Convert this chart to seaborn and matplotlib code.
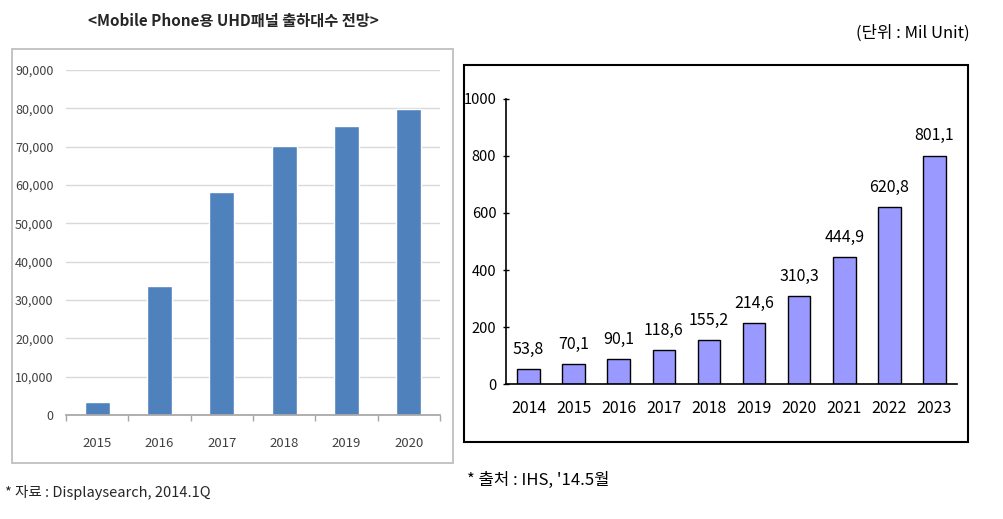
import matplotlib
matplotlib.use("Agg")
import matplotlib.pyplot as plt
from matplotlib.patches import Rectangle
import seaborn as sns
import pandas as pd

# ---- data ----
left_years = ["2015", "2016", "2017", "2018", "2019", "2020"]
left_values = [3400, 33700, 58200, 70100, 75500, 79900]
left_yticks = [0, 10000, 20000, 30000, 40000, 50000, 60000, 70000, 80000, 90000]

right_years = ["2014", "2015", "2016", "2017", "2018", "2019", "2020", "2021", "2022", "2023"]
right_values = [53.8, 70.1, 90.1, 118.6, 155.2, 214.6, 310.3, 444.9, 620.8, 801.1]
right_yticks = [0, 200, 400, 600, 800, 1000]

title_left = "<Mobile Phone용 UHD패널 출하대수 전망>"
unit_text = "(단위 : Mil Unit)"
source_left = "* 자료 : Displaysearch, 2014.1Q"
source_right = "* 출처 : IHS, '14.5월"

sns.set_theme(style="white")
FAM = ["Noto Sans CJK KR", "DejaVu Sans"]
plt.rcParams["font.family"] = FAM

W, H = 1004, 519
fig = plt.figure(figsize=(W / 100, H / 100), dpi=100)
fig.patch.set_facecolor("white")


def fr(x0, y0, x1, y1):
    return [x0 / W, 1 - y1 / H, (x1 - x0) / W, (y1 - y0) / H]


# ---- boxes ----
fig.add_artist(Rectangle((12 / W, 1 - 463 / H), (453 - 12) / W, (463 - 49) / H,
                         transform=fig.transFigure, fill=False, edgecolor="#bfbfbf", lw=1.3))
fig.add_artist(Rectangle((464 / W, 1 - 442 / H), (968 - 464) / W, (442 - 65) / H,
                         transform=fig.transFigure, fill=False, edgecolor="black", lw=1.5))

# ---- left chart ----
axL = fig.add_axes(fr(66, 70, 440, 415))
dfL = pd.DataFrame({"year": left_years, "value": left_values})
sns.barplot(data=dfL, x="year", y="value", color="#4f81bd", saturation=1, width=0.4, ax=axL)
axL.set_ylim(0, 90000)
axL.set_xlim(-0.5, len(left_years) - 0.5)
axL.set_yticks(left_yticks)
axL.set_yticklabels([f"{v:,}" for v in left_yticks], fontsize=9, color="#404040")
axL.yaxis.grid(True, color="#d9d9d9", lw=1)
axL.set_axisbelow(True)
for s in ["left", "top", "right"]:
    axL.spines[s].set_visible(False)
axL.spines["bottom"].set_color("#a6a6a6")
axL.tick_params(axis="y", length=0, pad=9)
axL.tick_params(axis="x", which="major", length=0, pad=16, labelsize=9.5, labelcolor="#404040")
axL.set_xticks([i - 0.5 for i in range(len(left_years) + 1)], minor=True)
axL.tick_params(axis="x", which="minor", length=4, color="#a6a6a6", bottom=True)
axL.set_xlabel("")
axL.set_ylabel("")

fig.text(233 / W, 1 - 21 / H, title_left, ha="center", va="center",
         fontsize=11, fontweight="bold", color="#262626")
fig.text(5 / W, 1 - 493 / H, source_left, ha="left", va="center",
         fontsize=10.5, color="#262626")

# ---- right chart ----
axR = fig.add_axes(fr(506, 98.7, 957, 384.3))
dfR = pd.DataFrame({"year": right_years, "value": right_values})
sns.barplot(data=dfR, x="year", y="value", color="#9999ff", saturation=1, width=0.5,
            edgecolor="black", linewidth=1, ax=axR)
axR.set_ylim(0, 1000)
axR.set_xlim(-0.5, len(right_years) - 0.5)
axR.set_yticks(right_yticks)
axR.set_yticklabels([str(v) for v in right_yticks], fontsize=10.5, color="black")
for s in ["top", "right"]:
    axR.spines[s].set_visible(False)
for s in ["left", "bottom"]:
    axR.spines[s].set_color("black")
    axR.spines[s].set_linewidth(1.2)
axR.tick_params(axis="y", direction="inout", length=4, width=1, color="black", pad=5, left=True)
axR.tick_params(axis="x", length=0, pad=11, labelsize=11.5, labelcolor="black")
axR.set_xlabel("")
axR.set_ylabel("")
axR.bar_label(axR.containers[0], labels=[f"{v:.1f}".replace(".", ",") for v in right_values],
              padding=8, fontsize=11.5, color="black")

fig.text(970 / W, 1 - 33 / H, unit_text, ha="right", va="center",
         fontsize=12, color="black")
fig.text(467 / W, 1 - 480 / H, source_right, ha="left", va="center",
         fontsize=12, color="black")

fig.savefig("out.png", dpi=100, facecolor="white")
